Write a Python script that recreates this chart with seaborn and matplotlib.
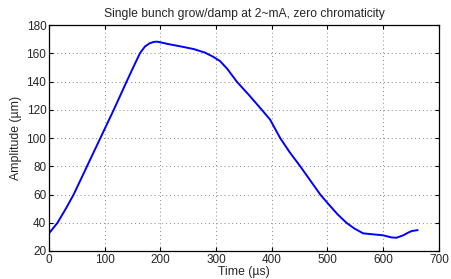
import numpy as np
import pandas as pd
import matplotlib
matplotlib.use("Agg")
import matplotlib.pyplot as plt
import seaborn as sns

# values
time_us = [0, 15, 30, 44, 56, 68, 80, 92, 104, 116, 127, 138, 150, 163, 172, 180, 187, 193,
           200, 215, 235, 260, 280, 295, 307, 320, 337, 360, 382, 397, 415, 432, 451, 469, 487,
           500, 518, 534, 548, 564, 582, 600, 615, 624, 636, 645, 651, 662]
amplitude = [32.6, 40, 50, 60, 70, 80, 90, 100, 110, 120, 129.5, 139, 149.2, 160, 164.8, 167, 168, 168.3,
             167.8, 166.5, 165, 163, 160.5, 157.5, 154.5, 149, 140, 130, 120, 113, 100, 90, 80, 70, 60,
             54, 46, 40, 36, 32.5, 31.8, 31.1, 29.6, 29.4, 31.1, 33, 34.1, 34.8]

df = pd.DataFrame({"time": time_us, "amp": amplitude})

sns.set_style("white")
plt.rcParams["font.family"] = ["Liberation Sans", "DejaVu Sans"]

fig = plt.figure(figsize=(4.51, 2.79), dpi=100)
ax = fig.add_axes([0.109, 0.1004, 0.864, 0.8096])

sns.lineplot(data=df, x="time", y="amp", color="#0000ff", linewidth=1.4, ax=ax)

ax.set_xlim(0, 700)
ax.set_ylim(20, 180)
ax.set_xticks(range(0, 701, 100))
ax.set_yticks(range(20, 181, 20))
ax.grid(True, linestyle=(0, (1, 3)), color="#888888", linewidth=0.7)
ax.tick_params(direction="in", length=3, labelsize=8.5, top=True, right=True,
               bottom=True, left=True, pad=2, color="black")
for s in ax.spines.values():
    s.set_color("black")
    s.set_linewidth(0.9)

ax.set_xlabel("Time (µs)", fontsize=8.8, labelpad=0)
ax.set_ylabel("Amplitude (µm)", fontsize=8.8, labelpad=3)
ax.set_title("Single bunch grow/damp at 2~mA, zero chromaticity", fontsize=8.7, pad=6)

fig.savefig("out.png", dpi=100)
